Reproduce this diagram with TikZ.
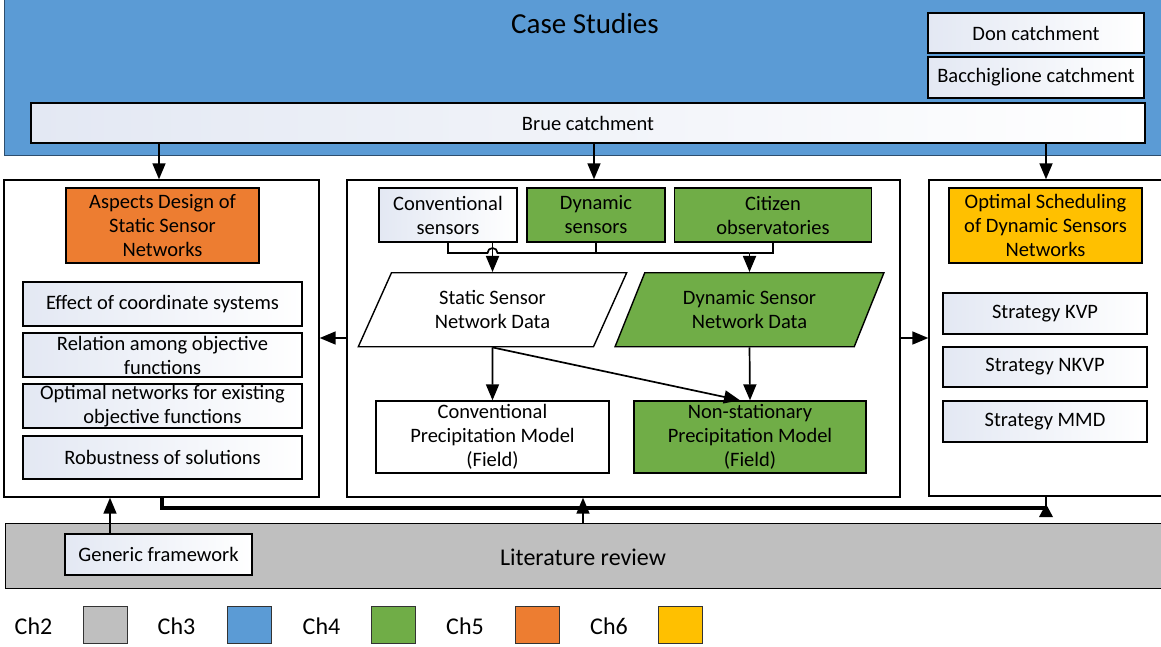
\documentclass[tikz,border=0pt]{standalone}
\usepackage{fontspec}
\setmainfont{Carlito}
\usetikzlibrary{shapes.geometric,arrows.meta,calc}
\definecolor{cblue}{HTML}{5B9BD5}
\definecolor{cgreen}{HTML}{70AD47}
\definecolor{corange}{HTML}{ED7D31}
\definecolor{cyellow}{HTML}{FFC000}
\definecolor{cgray}{HTML}{BFBFBF}
\definecolor{boxl}{HTML}{E3E8F3}
\definecolor{csb}{HTML}{2E4E6E}
\newcommand{\fs}{\fontsize{20.5}{24}\selectfont}
\begin{document}
\begin{tikzpicture}[x=1pt,y=-1pt,
 box/.style={draw=black, line width=1.4pt, inner sep=0pt, align=center, font=\fs},
 wbox/.style={box, left color=boxl, right color=white},
 panel/.style={draw=black, line width=1.4pt, fill=white, inner sep=0pt},
 para/.style={box, trapezium, trapezium left angle=63.7, trapezium right angle=116.3, trapezium stretches=true},
 arr/.style={line width=1.7pt, -{Triangle[length=16pt,width=13pt]}},
 conn/.style={line width=1.7pt},
 sw/.style={draw=black!80, line width=1pt, minimum width=44pt, minimum height=37pt, inner sep=0pt},
 lab/.style={font=\fontsize{24}{28}\selectfont, inner sep=0pt}
]
\useasboundingbox (0,0) rectangle (1161,646);
\fill[white] (0,0) rectangle (1161,646);

% Case studies
\node[box, draw=csb, fill=cblue, minimum width=1166pt, minimum height=157pt, anchor=north west] (cs) at (4,-2) {};
\node[font=\fontsize{29}{34}\selectfont, inner sep=0pt] (cst) at (585,24) {Case Studies};
\node[wbox, minimum width=216pt, minimum height=40pt] (don) at (1036,33) {Don catchment};
\node[wbox, minimum width=216pt, minimum height=41pt] (bac) at (1036,77.5) {Bacchiglione catchment};
\node[wbox, minimum width=1114pt, minimum height=40pt] (brue) at (588,123) {Brue catchment};

% panels
\node[panel, minimum width=315pt, minimum height=317pt] (leftP) at (161.5,338.5) {};
\node[panel, minimum width=553pt, minimum height=317pt] (centerP) at (623.5,338.5) {};
\node[panel, minimum width=241pt, minimum height=316pt] (rightP) at (1049.5,338) {};

% left panel content
\node[box, fill=corange, minimum width=193pt, minimum height=75pt] (asp) at (162.5,225.5) {Aspects Design of\\Static Sensor\\Networks};
\node[wbox, minimum width=279pt, minimum height=44pt] (eff) at (162.5,304) {Effect of coordinate systems};
\node[wbox, minimum width=279pt, minimum height=44pt] (rel) at (162.5,355) {Relation among objective\\functions};
\node[wbox, minimum width=279pt, minimum height=44pt] (opt) at (162.5,406) {Optimal networks for existing\\objective functions};
\node[wbox, minimum width=279pt, minimum height=43pt] (rob) at (162.5,457.5) {Robustness of solutions};

% right panel content
\node[box, fill=cyellow, minimum width=193pt, minimum height=75pt] (osch) at (1045.5,225.5) {Optimal Scheduling\\of Dynamic Sensors\\Networks};
\node[wbox, minimum width=204pt, minimum height=41pt] (kvp) at (1045,313.5) {Strategy KVP};
\node[wbox, minimum width=204pt, minimum height=40pt] (nkvp) at (1045,367) {Strategy NKVP};
\node[wbox, minimum width=204pt, minimum height=41pt] (mmd) at (1045,421.5) {Strategy MMD};

% center panel content
\node[wbox, minimum width=138pt, minimum height=54pt] (conv) at (448,215) {Conventional\\sensors};
\node[box, fill=cgreen, minimum width=138pt, minimum height=54pt] (dyns) at (596,215) {Dynamic\\sensors};
\node[box, fill=cgreen, minimum width=197pt, minimum height=54pt] (cit) at (773,215) {Citizen\\observatories};
\node[para, fill=white, minimum width=269pt, minimum height=74pt] (stat) at (492.5,309.7) {Static Sensor\\Network Data};
\node[para, fill=cgreen, minimum width=269pt, minimum height=74pt] (dynD) at (749.5,309.7) {Dynamic Sensor\\Network Data};
\node[box, fill=white, minimum width=233pt, minimum height=72pt] (convP) at (492.5,437) {Conventional\\Precipitation Model\\(Field)};
\node[box, fill=cgreen, minimum width=232pt, minimum height=72pt] (nonP) at (750,437) {Non-stationary\\Precipitation Model\\(Field)};

% bottom
\node[box, fill=cgray, minimum width=1165pt, minimum height=65.5pt, anchor=north west] (lit) at (5,522.5) {};
\node[font=\fontsize{24}{28}\selectfont, inner sep=0pt] (litt) at (583,557) {Literature review};
\node[wbox, minimum width=187pt, minimum height=41pt] (gen) at (158.5,554.5) {Generic framework};

% legend
\node[lab] (l2) at (33.5,626) {Ch2};
\node[sw, fill=cgray] (s2) at (105.5,624.5) {};
\node[lab] (l3) at (176.5,626) {Ch3};
\node[sw, fill=cblue] (s3) at (249.5,624.5) {};
\node[lab] (l4) at (321.5,626) {Ch4};
\node[sw, fill=cgreen] (s4) at (393,624.5) {};
\node[lab] (l5) at (465,626) {Ch5};
\node[sw, fill=corange] (s5) at (537,624.5) {};
\node[lab] (l6) at (609,626) {Ch6};
\node[sw, fill=cyellow] (s6) at (680,624.5) {};

% coordinates
\coordinate (busy) at (0,253);
\coordinate (midy) at (0,338);
\coordinate (xa) at (159,0);
\coordinate (xb) at (594,0);
\coordinate (xc) at (1046,0);
\coordinate (xg) at (110,0);
\coordinate (xl) at (583,0);
\coordinate (xt) at (162,0);
\coordinate (yt) at (0,508);

% connectors from Brue
\draw[arr] (brue.south -| xa) -- (leftP.north -| xa);
\draw[arr] (brue.south -| xb) -- (centerP.north -| xb);
\draw[arr] (brue.south -| xc) -- (rightP.north -| xc);

% sensors to data
\draw[arr] (stat.north |- conv.south) -- (stat.north);
\draw[conn] (conv.south) |- ($(stat.north |- busy)+(-5,0)$) arc[start angle=180, end angle=0, radius=5pt] -- (dynD.north |- busy);
\draw[conn] (dyns.south) -- (dyns.south |- busy);
\draw[conn] (cit.south) |- (dynD.north |- busy);
\draw[arr] (dynD.north |- busy) -- (dynD.north);

% data to models
\draw[arr] (stat.south) -- (convP.north);
\draw[arr] (stat.south) -- ($(nonP.north)+(-10,0)$);
\draw[arr] (dynD.south) -- (nonP.north);

% center to side panels
\draw[arr] (centerP.west |- midy) -- (leftP.east |- midy);
\draw[arr] (centerP.east |- midy) -- (rightP.west |- midy);

% bottom connectors
\draw[arr] (gen.north -| xg) -- (leftP.south -| xg);
\draw[arr] (lit.north -| xl) -- (centerP.south -| xl);
\draw[line width=3.5pt] (leftP.south -| xt) |- (yt -| xc);
\draw[conn] (yt -| xc) -- (rightP.south -| xc);
\fill ($(yt -| xc)+(0,-4)$) -- ($(yt -| xc)+(-7,9)$) -- ($(yt -| xc)+(7,9)$) -- cycle;
\end{tikzpicture}
\end{document}
